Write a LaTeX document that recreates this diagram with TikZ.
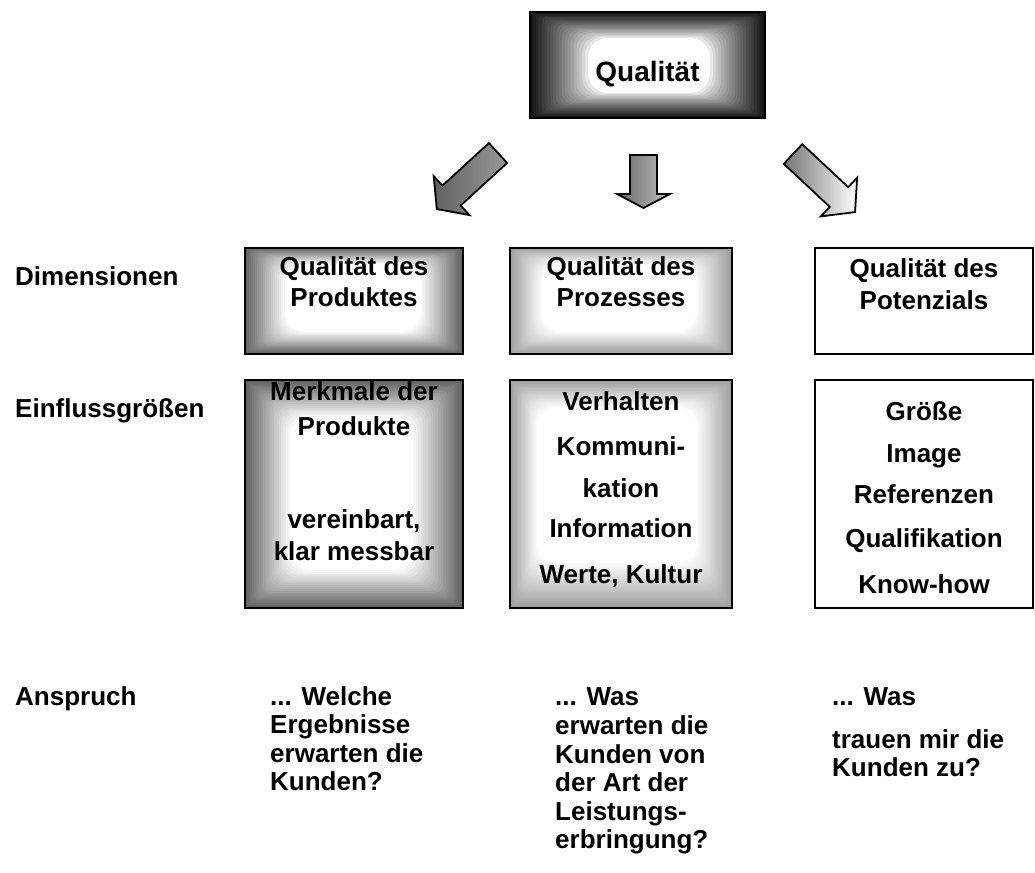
\documentclass[tikz,border=0pt]{standalone}
\usepackage{fontspec}
\setmainfont{Liberation Sans}
\newcommand\softpow{1.0}
% x1 y1 x2 y2 colour insetL insetR insetT insetB
\newcommand\softfill[9]{%
  \foreach \k in {0,...,20}{%
    \pgfmathtruncatemacro\pc{100*(1-\k/20)^\softpow}%
    \fill[#5!\pc!white, rounded corners=\k pt] ({#1+#6*\k/20},{#2+#8*\k/20}) rectangle ({#3-#7*\k/20},{#4-#9*\k/20});
  }}
\colorlet{topc}{black!92}
\colorlet{darkc}{black!62}
\colorlet{lightc}{black!38}
\begin{document}
\begin{tikzpicture}[x=1pt,y=-1pt,
  lbl/.style={inner sep=0pt, font=\fontsize{26}{28}\selectfont\bfseries, anchor=base},
  lblw/.style={lbl, anchor=base west},
  frame/.style={draw=black, line width=1.5pt, inner sep=0pt},
  blockarrow/.style={draw=black, line width=1.8pt, line join=miter}]
\useasboundingbox (0,0) rectangle (1035,872);

% ---------- top box ----------
\renewcommand\softpow{0.75}
\softfill{530}{12}{765}{118}{topc}{58}{55}{26}{25}
\node[frame, minimum width=235pt, minimum height=106pt] (top) at (647.5,65) {};
\node[lbl, font=\fontsize{28}{30}\selectfont\bfseries] (toptxt) at (647.5,82) {Qualität};

% ---------- arrows ----------
\coordinate (aLtail) at (498,153);
\coordinate (aMtail) at (643.5,155);
\coordinate (aRtail) at (793,154);
\begin{scope}[shift={(aLtail)}, rotate=222.5]
  \shade[blockarrow, left color=black!62, right color=black!40]
    (0,-13.5) -- (63,-13.5) -- (63,-26.5) -- (83,0) -- (63,26.5) -- (63,13.5) -- (0,13.5) -- cycle;
\end{scope}
\begin{scope}[shift={(aMtail)}, rotate=-90]
  \shade[blockarrow, left color=black!60, right color=black!25]
    (0,-13.5) -- (39,-13.5) -- (39,-26.5) -- (53,0) -- (39,26.5) -- (39,13.5) -- (0,13.5) -- cycle;
\end{scope}
\begin{scope}[shift={(aRtail)}, rotate=-43.1]
  \shade[blockarrow, left color=black!55, right color=white]
    (0,-13.5) -- (63,-13.5) -- (63,-26.5) -- (85,0) -- (63,26.5) -- (63,13.5) -- (0,13.5) -- cycle;
\end{scope}

% ---------- row labels ----------
\node[lblw] (ldim) at (15,285) {Dimensionen};
\node[lblw] (lein) at (15,417) {Einflussgrößen};
\node[lblw] (lans) at (15,705) {Anspruch};

% ---------- upper boxes ----------
\renewcommand\softpow{1.0}
\softfill{245}{248}{463}{354}{darkc}{40}{42}{16}{22}
\softfill{510}{248}{732}{354}{lightc}{32}{36}{16}{22}
\node[frame, minimum width=218pt, minimum height=106pt] (d1) at (354,301) {};
\node[frame, minimum width=222pt, minimum height=106pt] (d2) at (621,301) {};
\node[frame, minimum width=218pt, minimum height=106pt] (d3) at (924,301) {};
\node[lbl] (d1a) at (354,275) {Qualität des};
\node[lbl] (d1b) at (354,306) {Produktes};
\node[lbl] (d2a) at (621,275) {Qualität des};
\node[lbl] (d2b) at (621,306) {Prozesses};
\node[lbl] (d3a) at (924,277) {Qualität des};
\node[lbl] (d3b) at (924,309) {Potenzials};

% ---------- lower boxes ----------
\softfill{245}{380}{463}{608}{darkc}{45}{50}{37}{38}
\softfill{510}{380}{732}{608}{lightc}{27}{35}{27}{45}
\node[frame, minimum width=218pt, minimum height=228pt] (e1) at (354,494) {};
\node[frame, minimum width=222pt, minimum height=228pt] (e2) at (621,494) {};
\node[frame, minimum width=218pt, minimum height=228pt] (e3) at (924,494) {};
\node[lbl] (e1a) at (354,400) {Merkmale der};
\node[lbl] (e1b) at (354,435) {Produkte};
\node[lbl] (e1c) at (354,528) {vereinbart,};
\node[lbl] (e1d) at (354,560) {klar messbar};
\node[lbl] (e2a) at (621,410) {Verhalten};
\node[lbl] (e2b) at (621,455) {Kommuni-};
\node[lbl] (e2c) at (621,497) {kation};
\node[lbl] (e2d) at (621,537) {Information};
\node[lbl] (e2e) at (621,583) {Werte, Kultur};
\node[lbl] (e3a) at (924,420) {Größe};
\node[lbl] (e3b) at (924,462) {Image};
\node[lbl] (e3c) at (924,503) {Referenzen};
\node[lbl] (e3d) at (924,547) {Qualifikation};
\node[lbl] (e3e) at (924,593) {Know-how};

% ---------- bottom texts ----------
\node[lblw] (c1a) at (270,705) {... Welche};
\node[lblw] (c1b) at (270,733) {Ergebnisse};
\node[lblw] (c1c) at (270,762) {erwarten die};
\node[lblw] (c1d) at (270,790) {Kunden?};
\node[lblw] (c2a) at (555,705) {... Was};
\node[lblw] (c2b) at (555,734) {erwarten die};
\node[lblw] (c2c) at (555,763) {Kunden von};
\node[lblw] (c2d) at (555,791) {der Art der};
\node[lblw] (c2e) at (555,820) {Leistungs-};
\node[lblw] (c2f) at (555,848) {erbringung?};
\node[lblw] (c3a) at (832,705) {... Was};
\node[lblw] (c3b) at (832,748) {trauen mir die};
\node[lblw] (c3c) at (832,776) {Kunden zu?};
\end{tikzpicture}
\end{document}
